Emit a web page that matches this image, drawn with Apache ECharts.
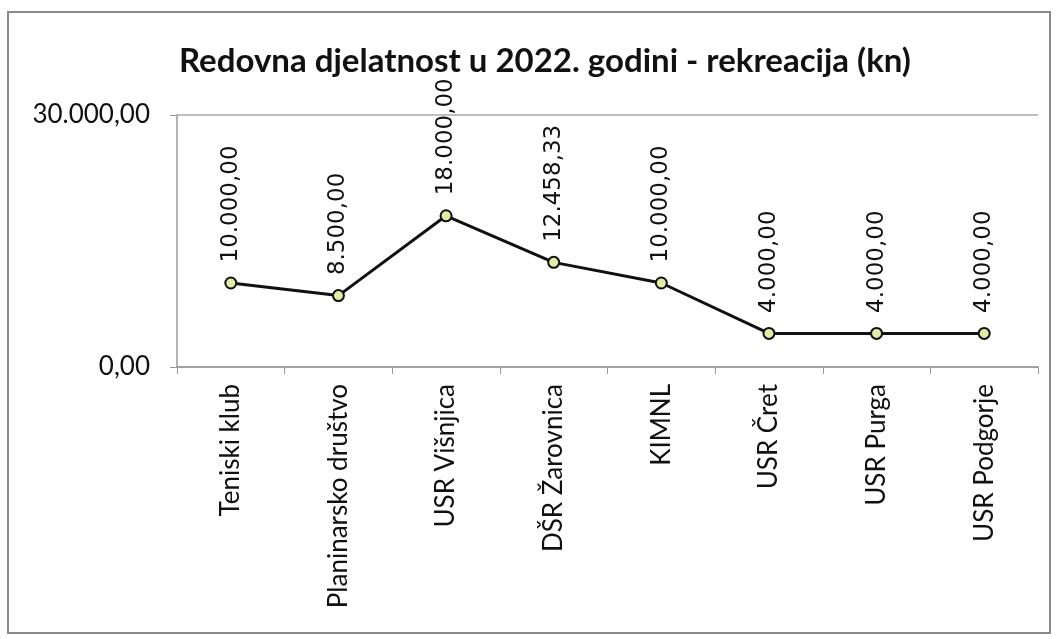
<!DOCTYPE html>
<html>
<head>
<meta charset="utf-8">
<script src="https://cdn.jsdelivr.net/npm/echarts@6/dist/echarts.min.js"></script>
<style>
  html, body { margin: 0; padding: 0; background: #fff; }
  #main { width: 1057px; height: 639px; }
</style>
</head>
<body>
<div id="main"></div>
<script>
// podaci
const categories = ['Teniski klub', 'Planinarsko društvo', 'USR Višnjica', 'DŠR Žarovnica', 'KIMNL', 'USR Čret', 'USR Purga', 'USR Podgorje']
const values = [10000, 8500, 18000, 12458.33, 10000, 4000, 4000, 4000]
const yTicks = [0, 30000]

// hrvatski format broja 12.458,33
function fmt(v) {
  let parts = Number(v).toFixed(2).split('.')
  parts[0] = parts[0].replace(/\B(?=(\d{3})+(?!\d))/g, '.')
  return parts[0] + ',' + parts[1]
}

let chart = echarts.init(document.getElementById('main'))

let option = {
  backgroundColor: '#fff',
  animation: false,
  title: {
    text: 'Redovna djelatnost u 2022. godini - rekreacija (kn)',
    left: 174,
    top: 40,
    textStyle: { fontFamily: 'Lato', fontWeight: 'bold', fontSize: 33, color: '#111' }
  },
  graphic: [{
    type: 'rect',
    shape: { x: 8, y: 12, width: 1042, height: 621 },
    style: { fill: 'none', stroke: '#8a8a8a', lineWidth: 2 },
    z: -1
  }],
  grid: { left: 177, right: 19, top: 115, bottom: 272 },
  xAxis: {
    type: 'category',
    data: categories,
    boundaryGap: true,
    axisLine: { lineStyle: { color: '#999', width: 1.5 } },
    axisTick: { show: true, length: 7, alignWithLabel: false, lineStyle: { color: '#999' } },
    axisLabel: {
      rotate: 90, interval: 0, margin: 17,
      fontFamily: 'Lato', fontSize: 26, color: '#111'
    }
  },
  yAxis: {
    type: 'value',
    min: yTicks[0],
    max: yTicks[yTicks.length - 1],
    interval: yTicks[1] - yTicks[0],
    axisLine: { show: true, lineStyle: { color: '#999', width: 1.5 } },
    axisTick: { show: true, length: 7, lineStyle: { color: '#999' } },
    splitLine: { show: true, lineStyle: { color: '#aaa', width: 1.5 } },
    axisLabel: {
      formatter: fmt, margin: 27,
      fontFamily: 'Lato', fontSize: 26, color: '#111'
    }
  },
  series: [{
    type: 'line',
    data: values,
    symbol: 'circle',
    symbolSize: 11,
    lineStyle: { color: '#111', width: 3 },
    itemStyle: { color: '#e4eaa8', borderColor: '#111', borderWidth: 2 },
    label: {
      show: true,
      position: 'top',
      distance: 14,
      rotate: 90,
      align: 'left',
      verticalAlign: 'middle',
      formatter: p => fmt(p.value),
      fontFamily: 'DejaVu Sans',
      fontSize: 23,
      color: '#111'
    }
  }]
}

chart.setOption(option)
</script>
</body>
</html>
